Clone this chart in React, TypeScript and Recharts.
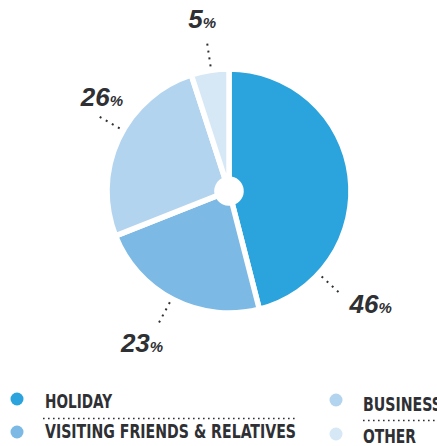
import React from 'react';
import { PieChart, Pie, Cell, Legend } from 'recharts';

const categories = ['HOLIDAY', 'VISITING FRIENDS & RELATIVES', 'BUSINESS', 'OTHER'];
const shares = [46, 23, 26, 5];
const colors = ['#2ba3dc', '#7cb9e4', '#b3d4ef', '#d6e7f5'];

const data = categories.map((name, i) => ({ name, value: shares[i] }));

const TEXT = '#2e3034';
const RAD = Math.PI / 180;

// label placement (polar, around the pie centre)
const LABEL_LAYOUT = [
  { lineAngle: -42.7, textAngle: -38.5, textR: 181 },
  { lineAngle: -118, textAngle: -119.8, textR: 175 },
  { lineAngle: 150.2, textAngle: 143.5, textR: 158 },
  { lineAngle: 98.4, textAngle: 98.9, textR: 174 },
];

const polar = (cx: number, cy: number, r: number, a: number) => ({
  x: cx + r * Math.cos(-a * RAD),
  y: cy + r * Math.sin(-a * RAD),
});

const renderLabel = (props: any) => {
  const { cx, cy, index, value } = props;
  const L = LABEL_LAYOUT[index];
  const p1 = polar(cx, cy, 126, L.lineAngle);
  const p2 = polar(cx, cy, 149, L.lineAngle);
  const t = polar(cx, cy, L.textR, L.textAngle);
  return (
    <g key={`lbl-${index}`}>
      <line
        x1={p1.x}
        y1={p1.y}
        x2={p2.x}
        y2={p2.y}
        stroke={TEXT}
        strokeWidth={2}
        strokeDasharray="2 5"
      />
      <text
        x={t.x}
        y={t.y + 9}
        textAnchor="middle"
        fill={TEXT}
        fontFamily="'Liberation Sans', Arial, sans-serif"
        fontWeight="bold"
        fontStyle="italic"
      >
        <tspan fontSize={26}>{value}</tspan>
        <tspan fontSize={15}>%</tspan>
      </text>
    </g>
  );
};

const LEGEND_FONT = "'Liberation Sans Narrow', 'DejaVu Sans Condensed', sans-serif";
const legendWidths = [67, 251, 79, 53];

const renderLegend = () => {
  const cols = [
    { cx: 17, tx: 45, rows: [0, 1], line: [43, 298] },
    { cx: 336, tx: 363, rows: [2, 3], line: [363, 440] },
  ];
  const rowBase = [[28, 58], [31, 63]];
  const rowDot = [[19, 52], [20, 54]];
  const lineY = [38.5, 40.5];
  return (
    <svg width={437} height={66} style={{ display: 'block' }}>
      {cols.map((c, ci) => (
        <g key={ci}>
          <line
            x1={c.line[0]}
            x2={c.line[1]}
            y1={lineY[ci]}
            y2={lineY[ci]}
            stroke={TEXT}
            strokeWidth={1.6}
            strokeDasharray="1.6 3.4"
          />
          {c.rows.map((idx, ri) => (
            <g key={idx}>
              <circle cx={c.cx} cy={rowDot[ci][ri]} r={6.5} fill={colors[idx]} />
              <text
                x={c.tx}
                y={rowBase[ci][ri]}
                fill={TEXT}
                fontFamily={LEGEND_FONT}
                fontWeight="bold"
                fontSize={19}
                textLength={legendWidths[idx]}
                lengthAdjust="spacingAndGlyphs"
              >
                {categories[idx]}
              </text>
            </g>
          ))}
        </g>
      ))}
    </svg>
  );
};

export default function App() {
  return (
    <div style={{ position: 'absolute', left: 0, top: 0, width: 437, height: 446, background: '#fff', overflow: 'hidden' }}>
      <PieChart width={437} height={446} margin={{ top: 0, right: 0, bottom: 0, left: 0 }}>
        <Pie
          data={data}
          dataKey="value"
          nameKey="name"
          cx={229}
          cy={191}
          innerRadius={12}
          outerRadius={122}
          startAngle={90}
          endAngle={-270}
          stroke="#ffffff"
          strokeWidth={5.5}
          label={renderLabel}
          labelLine={false}
          isAnimationActive={false}
        >
          {data.map((d, i) => (
            <Cell key={d.name} fill={colors[i]} />
          ))}
        </Pie>
        <Legend
          content={renderLegend}
          wrapperStyle={{ position: 'absolute', left: 0, top: 380, bottom: 'auto', width: 437, height: 66 }}
        />
      </PieChart>
    </div>
  );
}
